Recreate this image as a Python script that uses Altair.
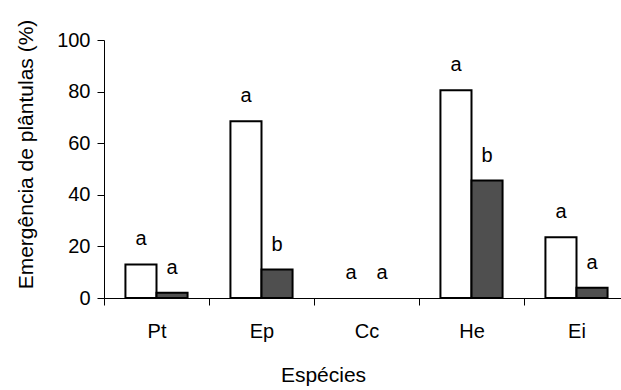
import altair as alt
import pandas as pd

species = ["Pt", "Ep", "Cc", "He", "Ei"]
white_vals = [13, 68.5, 0, 80.5, 23.5]
dark_vals = [2, 11, 0, 45.5, 4]
white_letters = ["a", "a", "a", "a", "a"]
dark_letters = ["a", "b", "a", "b", "a"]

rows = []
for i, s in enumerate(species):
    rows.append({"esp": s, "grupo": "A", "valor": white_vals[i], "letra": white_letters[i]})
    rows.append({"esp": s, "grupo": "B", "valor": dark_vals[i], "letra": dark_letters[i]})
df = pd.DataFrame(rows)

FONT = "Liberation Sans"
LSIZE = 20
TSIZE = 21

x_enc = alt.X(
    "esp:N",
    sort=species,
    scale=alt.Scale(range=[0, 525], paddingInner=0, paddingOuter=0),
    axis=alt.Axis(
        title="Espécies",
        labelAngle=0,
        tickBand="extent",
        tickSize=7,
        tickColor="black",
        domainColor="black",
        labelBaseline="alphabetic",
        labelPadding=32,
        labelFont=FONT,
        labelFontSize=LSIZE,
        labelColor="black",
        titleFont=FONT,
        titleFontSize=TSIZE,
        titleFontWeight="normal",
        titleColor="black",
        titleBaseline="alphabetic",
        titleAnchor="start",
        titleAlign="center",
        titleX=219,
        titleY=83,
    ),
)
xo_enc = alt.XOffset("grupo:N", scale=alt.Scale(paddingOuter=0.69, paddingInner=0))
y_enc = alt.Y(
    "valor:Q",
    scale=alt.Scale(domain=[0, 100], nice=False),
    axis=alt.Axis(
        title="Emergência de plântulas (%)",
        values=[0, 20, 40, 60, 80, 100],
        grid=False,
        tickSize=7,
        tickColor="black",
        domainColor="black",
        labelPadding=7,
        labelFont=FONT,
        labelFontSize=LSIZE,
        labelColor="black",
        titleFont=FONT,
        titleFontSize=TSIZE,
        titleFontWeight="normal",
        titleColor="black",
        titleAngle=-90,
        titleBaseline="alphabetic",
        titleAlign="center",
        titleAnchor="start",
        titleX=-72,
        titleY=114,
    ),
)

bars = alt.Chart(df).transform_filter("datum.valor > 0").mark_bar(
    stroke="black", strokeWidth=2
).encode(
    x=x_enc,
    xOffset=xo_enc,
    y=y_enc,
    fill=alt.Fill("grupo:N", scale=alt.Scale(domain=["A", "B"], range=["white", "#4f4f4f"]), legend=None),
)

labels = alt.Chart(df).mark_text(
    font=FONT, fontSize=LSIZE, color="black", baseline="middle", dy=-25
).encode(
    x=alt.X("esp:N", sort=species),
    xOffset=alt.XOffset("grupo:N"),
    y=alt.Y("valor:Q"),
    text="letra:N",
)

chart = (
    alt.layer(bars, labels)
    .properties(
        width=517,
        height=258,
        autosize=alt.AutoSizeParams(type="none"),
        padding={"left": 104, "top": 40, "right": 0, "bottom": 92},
        background="white",
    )
    .configure_view(stroke=None)
)

chart.save("out.html", embed_options={"renderer": "svg", "actions": False})
